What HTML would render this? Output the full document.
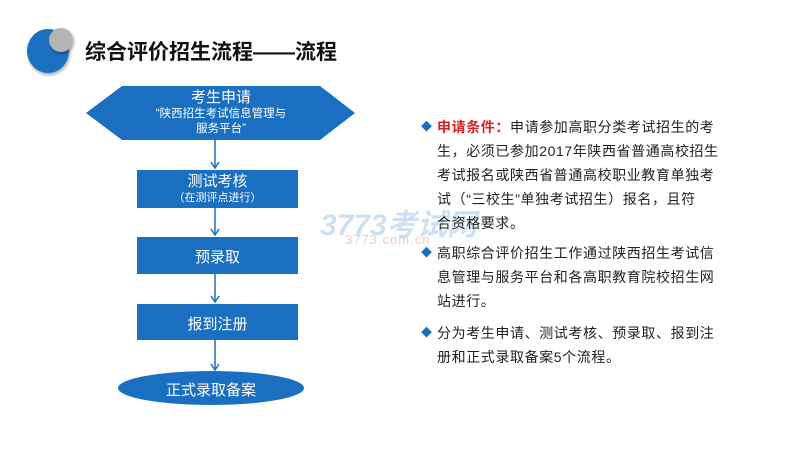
<!DOCTYPE html>
<html><head><meta charset="utf-8"><style>
body{margin:0;width:800px;height:450px;background:#fff;position:relative;overflow:hidden;font-family:"Liberation Sans","Noto Sans CJK SC",sans-serif}
.a{position:absolute}
.t{position:absolute;left:437px;width:280px;font-size:14px;line-height:24px;color:#222;white-space:nowrap;letter-spacing:0.6px}
.d{position:absolute;left:-16px;color:#1a6fc0;font-size:11px}
.w{color:#fff;text-align:center}
</style></head><body>
<svg class="a" style="left:0;top:0" width="800" height="450">
<defs><filter id="s"><feDropShadow dx="1" dy="2" stdDeviation="1.5" flood-opacity="0.35"/></filter></defs>
<ellipse cx="48" cy="51" rx="21" ry="22" fill="#1a6fc0" filter="url(#s)"/>
<circle cx="61" cy="40" r="12" fill="#b4b4b4" filter="url(#s)"/>
<g fill="#1a6fc0">
<polygon points="86,113 122,86 320,86 355,113 320,140 122,140"/>
<rect x="137" y="170" width="161" height="38"/>
<rect x="137" y="237" width="161" height="37"/>
<rect x="137" y="304" width="161" height="36"/>
<ellipse cx="211" cy="388" rx="93" ry="17"/>
</g>
<g stroke="#1a6fc0" stroke-width="1.5" fill="none">
<line x1="215" y1="140" x2="215" y2="168"/><polyline points="211,162 215,168 219,162"/>
<line x1="215" y1="208" x2="215" y2="235"/><polyline points="211,229 215,235 219,229"/>
<line x1="215" y1="274" x2="215" y2="302"/><polyline points="211,296 215,302 219,296"/>
<line x1="215" y1="340" x2="215" y2="370"/><polyline points="211,364 215,370 219,364"/>
</g>
</svg>
<div class="a" style="left:85px;top:36px;font-size:21px;font-weight:bold;color:#111">综合评价招生流程——流程</div>
<div class="a w" style="left:86px;top:89px;width:270px;font-size:15px;line-height:18px">考生申请</div>
<div class="a w" style="left:86px;top:107px;width:270px;font-size:11.5px;line-height:15px">“陕西招生考试信息管理与<br>服务平台”</div>
<div class="a w" style="left:137px;top:173px;width:161px;font-size:15px;line-height:18px">测试考核</div>
<div class="a w" style="left:137px;top:191px;width:161px;font-size:11px;line-height:14px">（在测评点进行）</div>
<div class="a w" style="left:137px;top:246px;width:161px;font-size:15px">预录取</div>
<div class="a w" style="left:137px;top:313px;width:161px;font-size:15px">报到注册</div>
<div class="a w" style="left:118px;top:379px;width:186px;font-size:15px">正式录取备案</div>
<div class="a" style="left:320px;top:200px;font-size:30px;font-style:italic;font-weight:bold;color:rgba(60,130,210,0.25)">3773考试网</div>
<div class="a" style="left:345px;top:232px;font-size:13px;color:rgba(230,100,90,0.35);letter-spacing:1px">3773.com.cn</div>
<div class="t" style="top:115px"><span class="d">◆</span><b style="color:#e02020">申请条件：</b>申请参加高职分类考试招生的考<br>生，必须已参加2017年陕西省普通高校招生<br>考试报名或陕西省普通高校职业教育单独考<br>试（“三校生”单独考试招生）报名，且符<br>合资格要求。</div>
<div class="t" style="top:241px"><span class="d">◆</span>高职综合评价招生工作通过陕西招生考试信<br>息管理与服务平台和各高职教育院校招生网<br>站进行。</div>
<div class="t" style="top:321px"><span class="d">◆</span>分为考生申请、测试考核、预录取、报到注<br>册和正式录取备案5个流程。</div>
</body></html>
